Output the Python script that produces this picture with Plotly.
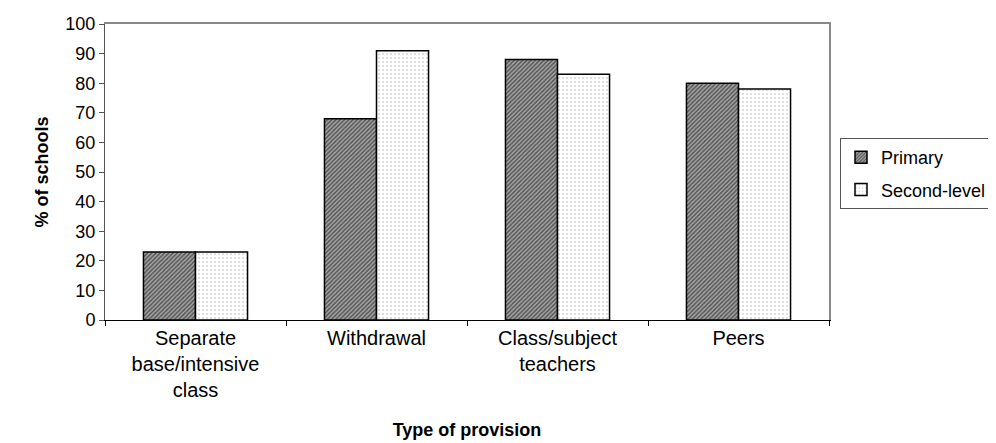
import plotly.graph_objects as go

categories = ["Separate<br>base/intensive<br>class", "Withdrawal", "Class/subject<br>teachers", "Peers"]
primary = [23, 68, 88, 80]
second_level = [23, 91, 83, 78]
y_ticks = list(range(0, 101, 10))

fig = go.Figure()
fig.add_trace(go.Bar(
    x=categories, y=primary, name="Primary", legendgroup="a",
    marker=dict(color="#888888", line=dict(color="black", width=1.5),
                pattern=dict(shape="/", fgcolor="black", bgcolor="#a8a8a8", size=3, solidity=0.5)),
))
fig.add_trace(go.Bar(
    x=categories, y=second_level, name="Second-level", legendgroup="b",
    marker=dict(color="white", line=dict(color="black", width=1.5),
                pattern=dict(shape=".", fgcolor="#aaaaaa", bgcolor="white", size=4, solidity=0.2)),
))

font = dict(family="Liberation Sans, Arial, sans-serif", size=18, color="black")
fig.update_layout(
    width=996, height=443,
    margin=dict(l=97, r=175, t=16, b=131),
    paper_bgcolor="white", plot_bgcolor="white",
    font=font,
    barmode="group", bargap=0.425, bargroupgap=0,
    showlegend=True,
    legend=dict(xref="container", yref="container", x=832 / 996, y=1 - 130 / 443,
                xanchor="left", yanchor="top",
                bordercolor="#555555", borderwidth=1, bgcolor="white",
                font=dict(size=18), tracegroupgap=6, itemwidth=30, traceorder="grouped"),
    xaxis=dict(
        title=dict(text="<b>Type of provision</b>", font=dict(size=18), standoff=23),
        showline=True, linecolor="black", linewidth=1, mirror=False,
        ticks="outside", ticklen=5, tickcolor="black", tickson="boundaries",
        tickfont=dict(size=20),
        showgrid=False, automargin=False,
    ),
    yaxis=dict(
        title=dict(text="<b>% of schools</b>", font=dict(size=18), standoff=12),
        range=[0, 100], tickvals=y_ticks, tickfont=dict(size=18),
        showline=True, linecolor="#555555", linewidth=1,
        ticks="outside", ticklen=5, tickcolor="#555555",
        showgrid=False, zeroline=False, automargin=False,
    ),
)
# plot-area border (top/right)
fig.update_layout(
    xaxis2=dict(overlaying="x", side="top", showline=True, linecolor="#888888", linewidth=1.5,
                showticklabels=False, ticks="", showgrid=False, range=[0, 1], automargin=False),
    yaxis2=dict(overlaying="y", side="right", showline=True, linecolor="#888888", linewidth=1.5,
                showticklabels=False, ticks="", showgrid=False, range=[0, 1], automargin=False),
)
fig.add_trace(go.Scatter(x=[None], y=[None], xaxis="x2", yaxis="y2", showlegend=False, hoverinfo="skip"))

fig.write_html("out.html")
